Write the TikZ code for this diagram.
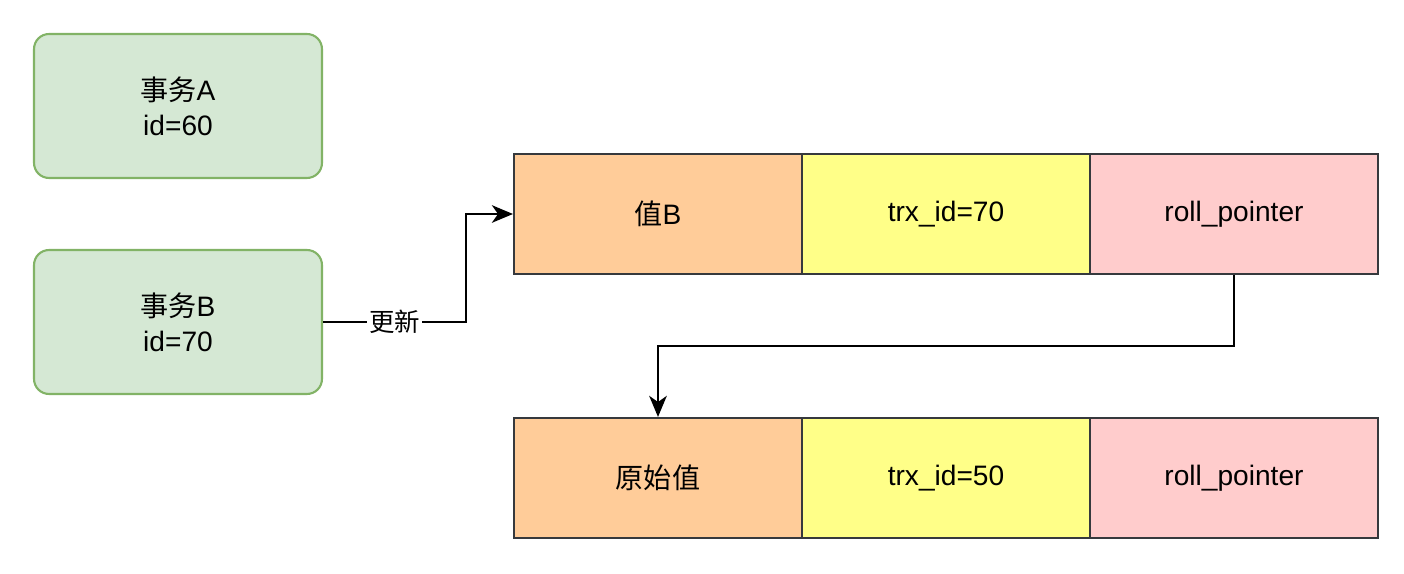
\documentclass[tikz,border=0pt]{standalone}
\usepackage{fontspec}
\setmainfont{Liberation Sans}
\newfontfamily\cjk{Noto Sans CJK SC}
\usetikzlibrary{arrows.meta}
\definecolor{gfill}{HTML}{D5E8D4}
\definecolor{gdraw}{HTML}{82B366}
\definecolor{ofill}{HTML}{FFCC99}
\definecolor{yfill}{HTML}{FFFF88}
\definecolor{pfill}{HTML}{FFCCCC}
\definecolor{cdraw}{HTML}{36393D}
\tikzset{
  txbox/.style={draw=gdraw, fill=gfill, rounded corners=0.3cm, line width=1.2pt,
    minimum width=5.76cm, minimum height=2.88cm, align=center, inner sep=0pt,
    font=\fontsize{16}{20}\selectfont},
  cell/.style={draw=cdraw, line width=1.2pt, minimum width=5.76cm, minimum height=2.4cm,
    inner sep=0pt, font=\fontsize{16}{20}\selectfont},
  conn/.style={line width=1.3pt, -{Stealth[length=12pt,width=10pt,inset=3.5pt]}},
}
\begin{document}
\begin{tikzpicture}[x=0.02cm,y=-0.02cm]
\useasboundingbox (0,0) rectangle (1404,574);
\node[txbox] (ta) at (178,106) {{\cjk 事务}A\\id=60};
\node[txbox] (tb) at (178,322) {{\cjk 事务}B\\id=70};
\node[cell, fill=ofill] (v1) at (658,214) {{\cjk 值}B};
\node[cell, fill=yfill] (t1) at (946,214) {trx\_id=70};
\node[cell, fill=pfill] (r1) at (1234,214) {roll\_pointer};
\node[cell, fill=ofill] (v2) at (658,478) {{\cjk 原始值}};
\node[cell, fill=yfill] (t2) at (946,478) {trx\_id=50};
\node[cell, fill=pfill] (r2) at (1234,478) {roll\_pointer};
\coordinate (k1) at (466,322);
\coordinate (k2) at (466,214);
\draw[conn] (tb.east) -- node[fill=white, inner sep=1pt, font=\cjk\fontsize{14.5}{17}\selectfont] (lbl) {更新} (k1) -- (k2) -- (v1.west);
\coordinate (m1) at (1234,346);
\coordinate (m2) at (658,346);
\draw[conn] (r1.south) -- (m1) -- (m2) -- (v2.north);
\end{tikzpicture}
\end{document}
